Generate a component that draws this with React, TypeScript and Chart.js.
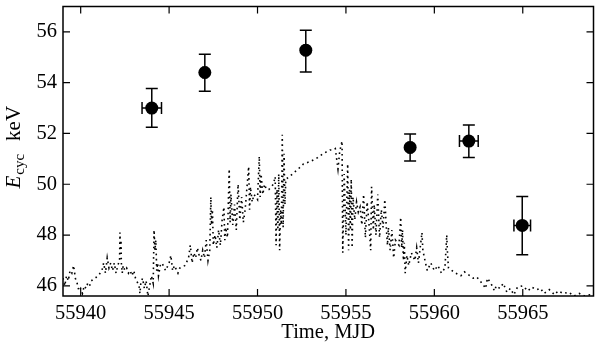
import { useEffect, useRef } from "react";
import { Chart, registerables } from "chart.js";
Chart.register(...registerables);

const xTicks = [55940, 55945, 55950, 55955, 55960, 55965];
const yTicks = [46, 48, 50, 52, 54, 56];
const xMin = 55939;
const xMax = 55969;
const yMin = 45.6;
const yMax = 57.0;

// cyclotron line energy measurements
const cycT = [55944.02, 55947.02, 55952.73, 55958.63, 55961.95, 55964.97];
const cycE = [53.0, 54.4, 55.28, 51.45, 51.7, 48.38];
const cycELow = [52.25, 53.66, 54.42, 50.92, 51.05, 47.22];
const cycEHigh = [53.77, 55.12, 56.06, 51.98, 52.33, 49.52];
const cycTErr = [0.55, 0.1, 0.1, 0.1, 0.53, 0.47];

// scaled light curve (dotted)
const curveT = [
  55939.0, 55939.1, 55939.2, 55939.3, 55939.4, 55939.5, 55939.6, 55939.7, 55939.8, 55939.9,
  55940.0, 55940.1, 55940.2, 55940.3, 55940.4, 55940.5, 55940.6, 55940.8, 55941.0, 55941.2,
  55941.3, 55941.4, 55941.5, 55941.6, 55941.7, 55941.8, 55941.9, 55942.0, 55942.1, 55942.2,
  55942.22, 55942.25, 55942.28, 55942.3, 55942.35, 55942.4, 55942.5, 55942.6, 55942.7, 55942.8,
  55942.9, 55943.0, 55943.1, 55943.3, 55943.35, 55943.4, 55943.5, 55943.6, 55943.7, 55943.8,
  55943.9, 55944.0, 55944.1, 55944.15, 55944.2, 55944.25, 55944.3, 55944.35, 55944.4, 55944.5,
  55944.6, 55944.8, 55945.0, 55945.1, 55945.2, 55945.3, 55945.5, 55945.6, 55945.9, 55946.1,
  55946.2, 55946.3, 55946.4, 55946.5, 55946.6, 55946.7, 55946.8, 55946.9, 55947.0, 55947.1,
  55947.2, 55947.3, 55947.36, 55947.4, 55947.45, 55947.5, 55947.6, 55947.7, 55947.8, 55947.9,
  55948.0, 55948.1, 55948.15, 55948.2, 55948.3, 55948.4, 55948.45, 55948.5, 55948.6, 55948.7,
  55948.8, 55948.9, 55949.0, 55949.1, 55949.2, 55949.3, 55949.5, 55949.55, 55949.6, 55949.7,
  55949.8, 55950.0, 55950.1, 55950.15, 55950.2, 55950.3, 55950.4, 55950.5, 55950.65, 55950.9,
  55951.0, 55951.05, 55951.1, 55951.15, 55951.2, 55951.25, 55951.3, 55951.35, 55951.4, 55951.45,
  55951.5, 55951.55, 55951.6, 55951.8, 55952.05, 55952.3, 55952.6, 55953.0, 55953.4, 55953.7,
  55954.1, 55954.3, 55954.4, 55954.55, 55954.65, 55954.78, 55954.82, 55954.9, 55955.0, 55955.1,
  55955.15, 55955.2, 55955.25, 55955.3, 55955.35, 55955.4, 55955.5, 55955.6, 55955.7, 55955.8,
  55955.9, 55956.0, 55956.1, 55956.2, 55956.3, 55956.4, 55956.45, 55956.55, 55956.6, 55956.7,
  55956.8, 55956.9, 55957.0, 55957.1, 55957.2, 55957.3, 55957.35, 55957.4, 55957.5, 55957.6,
  55957.7, 55957.8, 55958.0, 55958.1, 55958.15, 55958.2, 55958.25, 55958.3, 55958.35, 55958.45,
  55958.55, 55958.7, 55958.9, 55959.0, 55959.1, 55959.3, 55959.35, 55959.5, 55959.6, 55959.8,
  55960.0, 55960.2, 55960.4, 55960.6, 55960.7, 55960.75, 55960.8, 55961.0, 55961.2, 55961.5,
  55961.7, 55962.0, 55962.2, 55962.4, 55962.7, 55962.9, 55963.0, 55963.2, 55963.4, 55963.5,
  55963.7, 55963.9, 55964.1, 55964.3, 55964.5, 55964.7, 55965.0, 55965.3, 55965.5, 55965.8,
  55966.0, 55966.2, 55966.5, 55966.8, 55967.0, 55967.3, 55967.6, 55967.9, 55968.2, 55968.5,
  55968.8, 55969.0,
];
const curveE = [
  46.3, 46.0, 46.4, 46.2, 46.6, 46.5, 46.8, 46.3, 46.1, 45.8,
  45.9, 45.7, 46.0, 45.9, 46.1, 46.0, 46.2, 46.3, 46.4, 46.6,
  46.9, 46.5, 47.1, 46.7, 46.9, 46.6, 46.9, 46.5, 46.8, 47.0,
  48.1, 47.5, 47.8, 46.9, 46.5, 46.8, 46.6, 46.7, 46.5, 46.6,
  46.4, 46.6, 46.3, 46.0, 45.7, 46.1, 46.3, 45.9, 46.2, 45.6,
  46.0, 46.4, 46.1, 48.2, 47.4, 47.8, 46.6, 46.9, 46.4, 46.8,
  46.9, 46.6, 46.9, 47.2, 46.6, 46.8, 46.5, 46.7, 46.8, 47.1,
  47.6, 46.9, 47.3, 47.1, 47.5, 47.2, 47.0, 47.4, 47.1, 47.8,
  47.0, 47.4, 49.5, 48.4, 49.0, 47.6, 48.0, 47.5, 48.2, 47.6,
  48.6, 49.1, 47.8, 48.3, 47.9, 50.6, 48.5, 49.6, 48.4, 49.2,
  48.2, 50.0, 48.6, 49.5, 48.5, 49.0, 50.7, 49.0, 49.9, 49.3,
  49.6, 49.4, 51.1, 49.5, 50.4, 49.6, 50.0, 49.8, 49.8, 50.0,
  50.3, 47.6, 49.8, 48.2, 50.4, 47.4, 49.0, 48.4, 51.95, 48.3,
  51.2, 49.2, 50.2, 50.3, 50.45, 50.6, 50.8, 50.9, 51.05, 51.2,
  51.35, 51.35, 51.4, 50.6, 51.3, 51.7, 47.3, 50.4, 48.0, 50.8,
  47.4, 49.8, 48.2, 50.2, 47.5, 49.5, 48.6, 49.3, 48.9, 49.1,
  48.4, 49.6, 47.9, 49.3, 48.5, 47.4, 49.9, 48.2, 49.2, 48.0,
  49.6, 47.9, 49.0, 48.3, 49.4, 48.1, 47.6, 48.3, 47.4, 48.2,
  47.1, 47.8, 47.6, 48.7, 47.5, 48.2, 47.0, 47.7, 46.5, 47.2,
  46.8, 47.3, 47.0, 47.5, 46.9, 48.1, 47.4, 46.9, 46.6, 46.9,
  46.6, 46.8, 46.5, 46.7, 48.0, 47.2, 46.7, 46.6, 46.5, 46.4,
  46.55, 46.4, 46.3, 46.35, 46.1, 45.9, 46.3, 46.1, 45.8, 46.0,
  45.9, 46.1, 45.75, 45.9, 45.65, 45.95, 46.0, 45.8, 45.95, 45.85,
  45.9, 45.7, 45.85, 45.65, 45.8, 45.7, 45.75, 45.6, 45.7, 45.6,
  45.65, 45.6,
];

const FONT = '"Liberation Serif", "Times New Roman", serif';

export default function App() {
  const ref = useRef<HTMLCanvasElement>(null);

  useEffect(() => {
    if (!ref.current) return;

    const errorBars = {
      id: "errorBars",
      afterDatasetsDraw(chart: any) {
        const { ctx, scales } = chart;
        const xs = scales.x;
        const ys = scales.y;
        const cap = 6;
        ctx.save();
        ctx.strokeStyle = "#000";
        ctx.lineWidth = 1.5;
        for (let i = 0; i < cycT.length; i++) {
          const px = xs.getPixelForValue(cycT[i]);
          const py = ys.getPixelForValue(cycE[i]);
          const yl = ys.getPixelForValue(cycELow[i]);
          const yh = ys.getPixelForValue(cycEHigh[i]);
          const xl = xs.getPixelForValue(cycT[i] - cycTErr[i]);
          const xh = xs.getPixelForValue(cycT[i] + cycTErr[i]);
          ctx.beginPath();
          ctx.moveTo(px, yl);
          ctx.lineTo(px, yh);
          ctx.moveTo(px - cap, yl);
          ctx.lineTo(px + cap, yl);
          ctx.moveTo(px - cap, yh);
          ctx.lineTo(px + cap, yh);
          ctx.moveTo(xl, py);
          ctx.lineTo(xh, py);
          ctx.moveTo(xl, py - cap);
          ctx.lineTo(xl, py + cap);
          ctx.moveTo(xh, py - cap);
          ctx.lineTo(xh, py + cap);
          ctx.stroke();
        }
        ctx.restore();
      },
    };

    const frame = {
      id: "frame",
      afterDraw(chart: any) {
        const { ctx, chartArea, scales } = chart;
        const { left, right, top, bottom } = chartArea;
        const tl = 7;
        ctx.save();
        ctx.strokeStyle = "#000";
        ctx.lineWidth = 1.5;
        ctx.strokeRect(left, top, right - left, bottom - top);
        ctx.lineWidth = 1.2;
        ctx.beginPath();
        for (const v of xTicks) {
          const px = scales.x.getPixelForValue(v);
          ctx.moveTo(px, bottom);
          ctx.lineTo(px, bottom - tl);
          ctx.moveTo(px, top);
          ctx.lineTo(px, top + tl);
        }
        for (const v of yTicks) {
          const py = scales.y.getPixelForValue(v);
          ctx.moveTo(left, py);
          ctx.lineTo(left + tl, py);
          ctx.moveTo(right, py);
          ctx.lineTo(right - tl, py);
        }
        ctx.stroke();

        // axis titles
        ctx.fillStyle = "#000";
        ctx.font = `20.5px ${FONT}`;
        ctx.textAlign = "center";
        ctx.textBaseline = "alphabetic";
        ctx.fillText("Time, MJD", (left + right) / 2, 338);

        ctx.translate(20, (top + bottom) / 2 - 4);
        ctx.rotate(-Math.PI / 2);
        ctx.textAlign = "left";
        const fE = `italic 21px ${FONT}`;
        const fSub = `15px ${FONT}`;
        const fMain = `21px ${FONT}`;
        ctx.font = fE;
        const wE = ctx.measureText("E").width;
        ctx.font = fSub;
        const wS = ctx.measureText("cyc").width;
        ctx.font = fMain;
        const wK = ctx.measureText("keV").width;
        const gap = 13;
        const total = wE + 1 + wS + gap + wK;
        let x0 = -total / 2;
        ctx.font = fE;
        ctx.fillText("E", x0, 0);
        x0 += wE + 1;
        ctx.font = fSub;
        ctx.fillText("cyc", x0, 4);
        x0 += wS + gap;
        ctx.font = fMain;
        ctx.fillText("keV", x0, 0);
        ctx.restore();
      },
    };

    const chart = new Chart(ref.current, {
      type: "scatter",
      data: {
        datasets: [
          {
            data: curveT.map((t, i) => ({ x: t, y: curveE[i] })),
            showLine: true,
            borderColor: "#000",
            borderWidth: 1.6,
            borderDash: [1.6, 3.6],
            pointRadius: 0,
            fill: false,
            tension: 0,
          } as any,
          {
            data: cycT.map((t, i) => ({ x: t, y: cycE[i] })),
            showLine: false,
            pointRadius: 6.5,
            pointBackgroundColor: "#000",
            pointBorderColor: "#000",
            borderWidth: 0,
          } as any,
        ],
      },
      options: {
        animation: false,
        responsive: false,
        maintainAspectRatio: false,
        layout: { padding: { top: 5, right: 3, left: 0, bottom: 0 } },
        plugins: { legend: { display: false }, tooltip: { enabled: false } },
        scales: {
          x: {
            type: "linear",
            min: xMin,
            max: xMax,
            afterBuildTicks: (s: any) => {
              s.ticks = xTicks.map((v) => ({ value: v }));
            },
            afterFit: (s: any) => {
              s.height = 52;
              s.paddingLeft = 0;
              s.paddingRight = 0;
            },
            grid: { display: false, drawTicks: false },
            border: { display: false },
            ticks: {
              color: "#000",
              font: { family: FONT, size: 20.5 },
              padding: 5,
              maxRotation: 0,
              autoSkip: false,
              callback: (v: any) => String(v),
            },
          },
          y: {
            type: "linear",
            min: yMin,
            max: yMax,
            afterBuildTicks: (s: any) => {
              s.ticks = yTicks.map((v) => ({ value: v }));
            },
            afterFit: (s: any) => {
              s.width = 63;
              s.paddingTop = 0;
              s.paddingBottom = 0;
            },
            grid: { display: false, drawTicks: false },
            border: { display: false },
            ticks: {
              color: "#000",
              font: { family: FONT, size: 20.5 },
              padding: 6,
              autoSkip: false,
              callback: (v: any) => String(v),
            },
          },
        },
      },
      plugins: [errorBars, frame],
    });
    return () => chart.destroy();
  }, []);

  return (
    <div style={{ position: "absolute", left: 0, top: 0, width: 600, height: 348, background: "#fff" }}>
      <canvas ref={ref} width={600} height={348} />
    </div>
  );
}
